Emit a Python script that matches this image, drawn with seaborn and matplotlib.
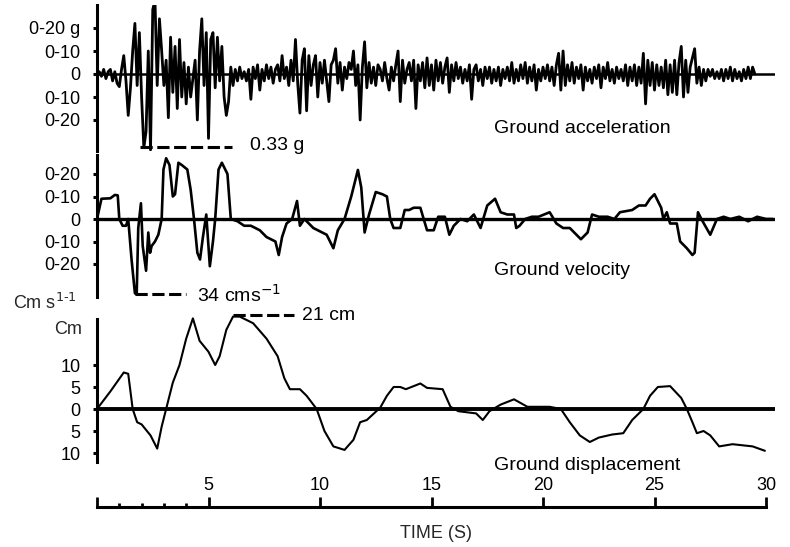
import matplotlib
matplotlib.use('Agg')
import matplotlib.pyplot as plt
import seaborn as sns
import numpy as np
import pandas as pd

# ground acceleration (g), sampled every 0.1 s from t = 0
acc_dt = 0.1
acc_g = [
    0, 0.01, -0.01, 0.02, -0.02, 0.01, 0.02, -0.03, 0.01, -0.04,
    -0.055, 0.02, 0.08, -0.03, -0.18, -0.06, 0.10, 0.22, -0.05, 0.18,
    -0.10, -0.32, -0.25, 0.10, -0.33, 0.28, 0.32, -0.05, 0.24, 0.10,
    -0.05, 0.06, -0.19, 0.16, -0.08, 0.12, -0.15, 0.15, -0.10, 0.05,
    -0.13, 0.03, -0.10, -0.02, 0.06, -0.20, 0.10, 0.24, -0.05, 0.18,
    -0.28, 0.15, 0.18, -0.06, 0.16, -0.03, 0.12, -0.10, -0.18, -0.12,
    0.03, -0.05, 0.02, -0.03, 0.03, -0.02, 0.01, -0.03, 0.02, -0.11,
    0.03, -0.02, 0.04, -0.07, 0.02, -0.03, 0.04, -0.02, 0.03, -0.04,
    0.02, 0.04, -0.03, 0.08, -0.02, 0.03, -0.05, 0.06, -0.03, 0.15,
    -0.04, -0.17, 0.06, 0.11, -0.16, 0.08, -0.05, 0.04, 0.08, -0.10,
    0.05, -0.04, 0.06, -0.03, -0.12, 0.04, 0.06, 0.11, -0.04, 0.05,
    -0.07, 0.03, -0.02, 0.05, 0.02, 0.10, -0.05, 0.04, -0.20, 0.03,
    0.14, -0.06, 0.05, -0.04, 0.03, -0.05, 0.04, 0.02, -0.03, 0.05,
    -0.02, -0.07, 0.03, -0.03, 0.04, 0.10, -0.12, 0.06, -0.04, 0.02,
    0.05, -0.03, 0.06, -0.15, 0.04, -0.03, 0.05, -0.06, 0.07, -0.05,
    0.04, -0.07, 0.06, -0.03, 0.05, -0.04, 0.03, 0.07, -0.08, 0.04,
    -0.03, 0.05, -0.02, 0.03, -0.04, 0.02, -0.03, 0.04, -0.11, 0.02,
    0.04, -0.03, 0.02, -0.05, 0.03, -0.02, 0.03, -0.04, 0.02, -0.03,
    0.03, -0.05, 0.02, -0.02, 0.03, -0.03, 0.05, -0.04, 0.02, -0.03,
    0.04, -0.02, 0.05, -0.04, 0.03, -0.03, 0.04, -0.07, 0.02, -0.03,
    0.03, -0.02, 0.04, -0.03, 0.03, -0.05, 0.04, 0.09, -0.07, 0.10,
    -0.05, 0.04, -0.03, 0.05, -0.04, 0.03, -0.02, 0.04, -0.07, 0.03,
    -0.03, 0.02, -0.04, 0.03, -0.02, 0.04, -0.06, 0.03, -0.02, 0.05,
    -0.03, 0.02, -0.04, 0.03, -0.02, 0.02, -0.03, 0.04, -0.05, 0.03,
    -0.03, 0.04, -0.05, 0.03, -0.04, 0.09, -0.13, 0.06, -0.05, 0.05,
    -0.07, 0.04, -0.05, 0.03, -0.06, 0.06, -0.09, 0.04, -0.08, 0.06,
    -0.09, 0.05, 0.12, -0.10, 0.06, -0.08, 0.03, 0.07, 0.11, -0.04,
    0.03, -0.05, 0.02, -0.03, 0.02, -0.01, 0.02, -0.02, 0.01, -0.02,
    0.02, -0.03, 0.02, -0.02, 0.03, -0.03, 0.02, -0.02, 0.01, -0.03,
    0.02, -0.02, 0.03, -0.02, 0.03, 0.0,
]

# ground velocity (cm/s)
vel_t = [0.0, 0.2, 0.6, 0.8, 0.93, 1.0, 1.15, 1.3, 1.4, 1.55, 1.7, 1.78, 1.85, 1.97,
         2.05, 2.2, 2.3, 2.38, 2.45, 2.6, 2.75, 2.9, 2.98, 3.1, 3.25, 3.4, 3.5, 3.65,
         3.8, 4.05, 4.2, 4.35, 4.5, 4.62, 4.75, 4.9, 5.06, 5.2, 5.3, 5.45, 5.6,
         5.85, 6.0, 6.3, 6.6, 6.9, 7.3, 7.6, 8.0, 8.15, 8.3, 8.5, 8.75, 8.97, 9.1,
         9.3, 9.7, 10.3, 10.6, 10.8, 11.1, 11.4, 11.7, 11.85, 12.0, 12.2, 12.5,
         12.8, 13.0, 13.15, 13.3, 13.6, 13.8, 14.0, 14.2, 14.5, 14.8, 15.1, 15.3,
         15.6, 15.8, 16.0, 16.3, 16.6, 16.9, 17.2, 17.5, 17.85, 18.1, 18.4, 18.7,
         18.8, 18.95, 19.2, 19.5, 19.8, 20.3, 20.6, 20.9, 21.2, 21.7, 22.0, 22.2,
         22.5, 22.9, 23.2, 23.45, 24.0, 24.3, 24.6, 24.8, 25.0, 25.3, 25.4, 25.55,
         25.7, 26.0, 26.15, 26.45, 26.7, 26.8, 26.95, 27.1, 27.5, 27.8, 28.1, 28.4,
         28.8, 29.2, 29.6, 30.0, 30.3]
vel_cms = [0, 9, 9.2, 10.7, 10.5, 0, -3, -3, 0, -18, -33, -33.5, -4, 7,
           -12, -23, -6, -15, -12, -10, -7, 0, 22, 27, 24, 10, 11, 25,
           24, 22, 13, 0, -15, -18, -8, 2, -21, -10, 0, 22, 25,
           20, 0, -1, -3, -3, -5, -8, -10, -16, -8, -2, 0, 8, -3,
           0, -4, -7, -13, -5, 0, 10, 21.8, 14, -6, 2, 12,
           11, 10, 0, -4, -4, 4, 4, 5, 5, -5, -5, 1,
           1, -7, -3, 0, -1, 2, -4, 6, 9, 3, 2, 2,
           -4, -3, 0, 1, 1, 3, -2, -4, -4, -9, -6, 2,
           1, 1, 0, 3, 4, 6, 6, 9, 11, 5, 0, 3,
           -2, -2, -10, -13, -16, -15, 3, 0, -7, 0, 1, 0,
           1, -1, 1, 0, 0]

# ground displacement (cm)
disp_t = [0.0, 0.6, 1.2, 1.4, 1.6, 1.8, 2.0, 2.4, 2.7, 2.9, 3.1, 3.4, 3.7, 4.0, 4.3,
          4.6, 5.0, 5.3, 5.5, 5.8, 6.1, 6.4, 7.0, 7.6, 8.1, 8.4, 8.65, 9.1, 9.4,
          9.85, 10.2, 10.6, 11.1, 11.5, 11.8, 12.1, 12.7, 13.0, 13.3, 13.6, 13.85,
          14.5, 14.8, 15.5, 15.85, 16.2, 17.0, 17.3, 17.6, 18.1, 18.7, 19.3, 20.3,
          20.8, 21.2, 21.65, 22.1, 22.5, 23.1, 23.6, 24.0, 24.5, 24.8, 25.15, 25.7,
          26.2, 26.45, 26.7, 26.9, 27.2, 27.5, 27.9, 28.5, 29.4, 29.95]
disp_cm = [0, 4, 8.3, 8, 0, -3, -3.5, -6, -9, -4, 0, 6, 10, 16, 20.6,
           15.5, 13, 10, 12, 18, 21, 21, 19.5, 16, 12, 7, 4.5, 4.5, 3,
           0, -5, -8.5, -9.3, -7, -3, -2.5, 0.3, 3, 5, 5, 4.5,
           5.8, 4.8, 4.5, 0.5, -0.5, -1, -2.5, -0.5, 1, 2.2, 0.5, 0.5,
           0, -3, -6, -7.5, -6.5, -5.8, -5.5, -2.5, 0, 3, 5, 5.2,
           2.5, 0, -3, -5.5, -5, -6, -8.5, -8, -8.5, -9.5]

acc_ticks = [0.2, 0.1, 0, -0.1, -0.2]
acc_labels = ['0-20 g', '0-10', '0', '0-10', '0-20']
vel_ticks = [20, 10, 0, -10, -20]
vel_labels = ['0-20', '0-10', '0', '0-10', '0-20']
disp_ticks = [10, 5, 0, -5, -10]
disp_labels = ['10', '5', '0', '5', '10']
time_ticks = [0, 5, 10, 15, 20, 25, 30]

sns.set_style('white')
plt.rcParams['font.family'] = ['Liberation Sans', 'DejaVu Sans']

W, H = 790, 547
fig = plt.figure(figsize=(W / 100, H / 100), dpi=100)


def px_axes(left, top, right, bottom):
    return fig.add_axes([left / W, 1 - bottom / H, (right - left) / W, (bottom - top) / H])


XMAX = (775 - 97) / 22.3

ax_acc = px_axes(97, 5, 775, 151)
ax_vel = px_axes(97, 155, 775, 297)
ax_disp = px_axes(97, 314, 775, 465)
ax_time = px_axes(97, 507, 775, 517)

acc_df = pd.DataFrame({'t': np.arange(len(acc_g)) * acc_dt, 'a': acc_g})
vel_df = pd.DataFrame({'t': vel_t, 'v': vel_cms})
disp_df = pd.DataFrame({'t': disp_t, 'd': disp_cm})

sns.lineplot(data=acc_df, x='t', y='a', ax=ax_acc, color='black', linewidth=2.0, estimator=None)
sns.lineplot(data=vel_df, x='t', y='v', ax=ax_vel, color='black', linewidth=1.9, estimator=None)
sns.lineplot(data=disp_df, x='t', y='d', ax=ax_disp, color='black', linewidth=1.5, estimator=None)

ax_acc.axhline(0, color='black', lw=1.8)
ax_vel.axhline(0, color='black', lw=2.4)
ax_disp.axhline(0, color='black', lw=2.8)

ax_acc.set_ylim(-(151 - 74) / 230, (74 - 5) / 230)
ax_vel.set_ylim(-(297 - 219) / 2.25, (219 - 155) / 2.25)
ax_disp.set_ylim(-(465 - 409) / 4.4, (409 - 314) / 4.4)

panels = [
    (ax_acc, acc_ticks, acc_labels),
    (ax_vel, vel_ticks, vel_labels),
    (ax_disp, disp_ticks, disp_labels),
]
for ax, ticks, labels in panels:
    ax.set_xlim(0, XMAX)
    for side in ['top', 'right', 'bottom']:
        ax.spines[side].set_visible(False)
    ax.spines['left'].set_linewidth(2.2)
    ax.spines['left'].set_color('black')
    ax.set_xticks([])
    ax.set_yticks(ticks)
    ax.set_yticklabels(labels)
    ax.tick_params(axis='y', direction='out', length=3, width=2.2, pad=9,
                   labelsize=13, colors='black', left=True)
    ax.set_xlabel('')
    ax.set_ylabel('')
    ax.patch.set_alpha(0)

ax_disp.spines['left'].set_bounds(-12, 20.4)

# time axis
ax_time.set_xlim(0, XMAX)
for side in ['left', 'right', 'bottom']:
    ax_time.spines[side].set_visible(False)
ax_time.spines['top'].set_linewidth(2.2)
ax_time.spines['top'].set_color('black')
ax_time.spines['top'].set_bounds(0, 30)
ax_time.set_yticks([])
ax_time.xaxis.tick_top()
ax_time.set_xticks(time_ticks)
ax_time.set_xticklabels([''] + [str(v) for v in time_ticks[1:]])
ax_time.set_xticks([1, 2, 3, 4], minor=True)
ax_time.tick_params(axis='x', which='major', direction='out', length=7, width=2,
                    pad=2, labelsize=13, colors='black', top=True)
ax_time.tick_params(axis='x', which='minor', direction='out', length=3, width=2,
                    colors='black', top=True)
ax_time.patch.set_alpha(0)

dash = (0, (4, 1.5))
txt = dict(fontsize=14, color='black', va='center')

ax_acc.plot([1.93, 6.05], [-0.318, -0.318], color='black', lw=2.2, linestyle=dash, clip_on=False)
ax_acc.text(6.85, -0.31, '0.33 g', **txt)
ax_acc.text(17.8, -0.235, 'Ground acceleration', **txt)

ax_vel.plot([1.7, 4.0], [-33.3, -33.3], color='black', lw=2.2, linestyle=dash, clip_on=False)
ax_vel.text(4.5, -33.8, '34 cms$^{-1}$', **txt)
ax_vel.text(17.8, -22.7, 'Ground velocity', **txt)

ax_disp.plot([6.1, 8.85], [21.3, 21.3], color='black', lw=2.2, linestyle=dash, clip_on=False)
ax_disp.text(9.2, 21.3, '21 cm', **txt)
ax_disp.text(17.8, -12.8, 'Ground displacement', **txt)

fig.text(13 / W, 1 - 303 / H, 'Cm s$^{1\u20111}$', fontsize=13, va='center', ha='left')
fig.text(82 / W, 1 - 330 / H, 'Cm', fontsize=13, va='center', ha='right')
fig.text(436 / W, 1 - 533 / H, 'TIME (S)', fontsize=13, va='center', ha='center')

fig.savefig('out.png', dpi=100)
plt.close(fig)
